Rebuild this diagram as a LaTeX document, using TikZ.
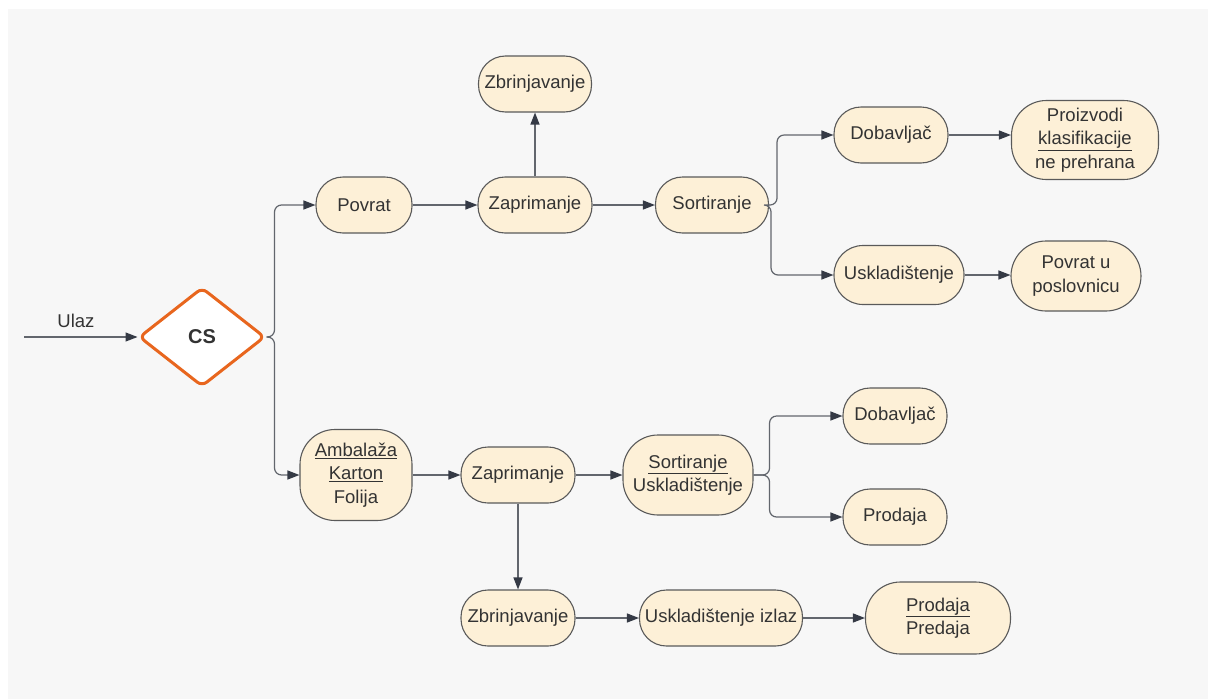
\documentclass[tikz,border=0pt]{standalone}
\usepackage{fontspec}
\setmainfont{Liberation Sans}
\usepackage{tikz}
\usetikzlibrary{shapes.geometric, arrows.meta, positioning}

\definecolor{bgclr}{HTML}{F7F7F7}
\definecolor{boxfill}{HTML}{FDF0D7}
\definecolor{boxline}{HTML}{5A5A5A}
\definecolor{flowclr}{HTML}{62666D}
\definecolor{tipclr}{HTML}{353A45}
\definecolor{txtclr}{HTML}{333333}
\definecolor{csorange}{HTML}{E8661E}

\tikzset{
    stage/.style={draw=boxline, fill=boxfill, line width=1.1pt, rounded corners=27pt,
        minimum height=56pt, inner sep=0pt, align=center, text=txtclr,
        font=\fontsize{18.5}{23.5}\selectfont},
    tallstage/.style={stage, rounded corners=35pt},
    flow/.style={draw=flowclr, line width=1.2pt, rounded corners=7pt,
        -{Triangle[length=12pt,width=9pt,color=tipclr]}}
}

\begin{document}
\begin{tikzpicture}[x=1pt,y=-1pt]
            % canvas
            \useasboundingbox (0,0) rectangle (1208,699);
            \fill[bgclr] (8,9) rectangle (1208,699);

            % decision
            \node[diamond, draw=csorange, fill=white, line width=3pt, rounded corners=6pt,
                minimum width=126pt, minimum height=99pt, inner sep=0pt,
                text=txtclr, font=\fontsize{20}{24}\selectfont\bfseries] (cs) at (202,337) {CS};
            \coordinate (ulaz) at (24,337);
            \node[text=txtclr, font=\fontsize{18.5}{22}\selectfont] (ulazlbl) at (76,321) {Ulaz};

            % upper branch: returns
            \node[stage, minimum width=96pt] (povrat) at (364,205) {Povrat};
            \node[stage, minimum width=114pt] (zap1) at (535,205) {Zaprimanje};
            \node[stage, minimum width=113pt] (zbr1) at (535,84) {Zbrinjavanje};
            \node[stage, minimum width=113pt] (sort1) at (712,205) {Sortiranje};
            \node[stage, minimum width=114pt] (dob1) at (891,135) {Dobavljač};
            \node[tallstage, minimum width=147pt, minimum height=79pt] (proizv) at (1085,140) {Proizvodi\\\underline{klasifikacije}\\ne prehrana};
            \node[stage, minimum width=130pt, minimum height=59pt, rounded corners=29pt] (uskl1) at (899,275) {Uskladištenje};
            \node[tallstage, minimum width=130pt, minimum height=70pt] (povposl) at (1076,276) {Povrat u\\poslovnicu};

            % lower branch: packaging
            \node[tallstage, minimum width=112pt, minimum height=91pt] (ambal) at (356,475) {\underline{Ambalaža}\\\underline{Karton}\\Folija};
            \node[stage, minimum width=114pt] (zap2) at (518,475) {Zaprimanje};
            \node[tallstage, minimum width=130pt, minimum height=80pt] (sortuskl) at (688,475) {\underline{Sortiranje}\\Uskladištenje};
            \node[stage, minimum width=104pt] (dob2) at (895,416) {Dobavljač};
            \node[stage, minimum width=104pt] (prodaja) at (895,517) {Prodaja};
            \node[stage, minimum width=114pt] (zbr2) at (518,618) {Zbrinjavanje};
            \node[stage, minimum width=163pt] (usklizl) at (721,618) {Uskladištenje izlaz};
            \node[tallstage, minimum width=145pt, minimum height=72pt] (predaja) at (938,618) {\underline{Prodaja}\\Predaja};

            % connectors
            \draw[flow] (ulaz) -- (cs);
            \draw[flow] (cs.east) -- ++(8,0) |- (povrat);
            \draw[flow] (cs.east) -- ++(8,0) |- (ambal);

            \draw[flow] (povrat) -- (zap1);
            \draw[flow] (zap1) -- (zbr1);
            \draw[flow] (zap1) -- (sort1);
            \draw[flow] (sort1.east) -- ++(8,0) |- (dob1);
            \draw[flow] (sort1.east) -- ++(2,0) |- (uskl1);
            \draw[flow] (dob1.east) -- (dob1.east -| proizv.west);
            \draw[flow] (uskl1.east) -- (uskl1.east -| povposl.west);

            \draw[flow] (ambal) -- (zap2);
            \draw[flow] (zap2) -- (sortuskl);
            \draw[flow] (sortuskl.east) -- ++(16,0) |- (dob2);
            \draw[flow] (sortuskl.east) -- ++(16,0) |- (prodaja);
            \draw[flow] (zap2) -- (zbr2);
            \draw[flow] (zbr2) -- (usklizl);
            \draw[flow] (usklizl) -- (predaja);
        \end{tikzpicture}
\end{document}
